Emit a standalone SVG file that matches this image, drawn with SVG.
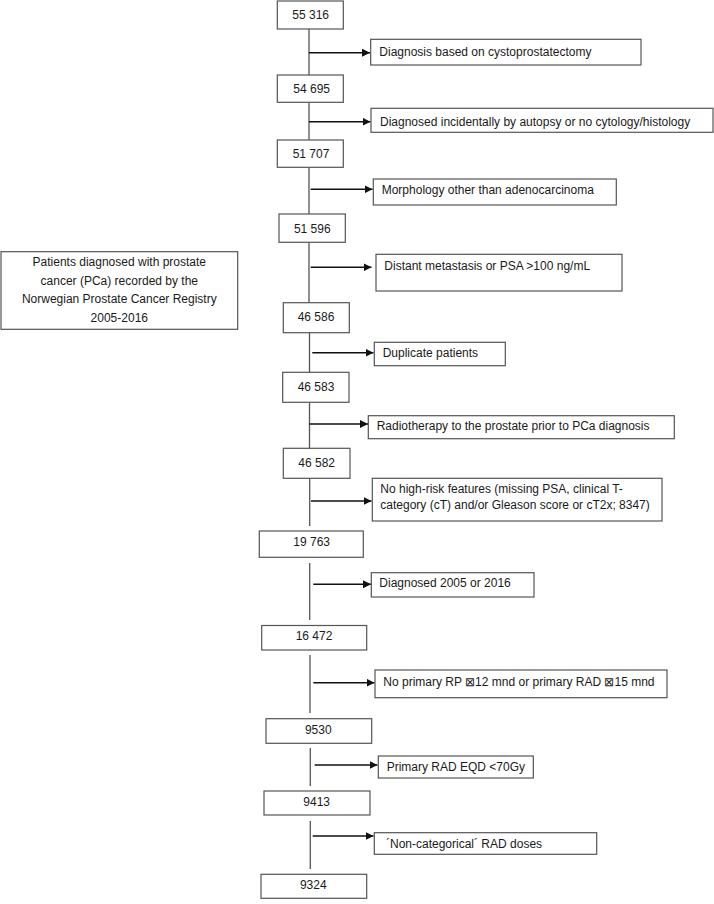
<svg xmlns="http://www.w3.org/2000/svg" width="714" height="904" viewBox="0 0 714 904">
<defs>
<style>
.b{fill:#fff;stroke:#555;stroke-width:1.2}
.t{font-family:"Liberation Sans",Arial,sans-serif;font-size:12px;fill:#1a1a1a}
.c{text-anchor:middle}
.v{stroke:#555;stroke-width:1.3;fill:none}
.a{stroke:#111;stroke-width:1.5;fill:none;marker-end:url(#ah)}
</style>
<marker id="ah" viewBox="0 0 10 10" refX="10" refY="5" markerWidth="8" markerHeight="8" markerUnits="userSpaceOnUse" orient="auto">
<path d="M0,0 L10,5 L0,10 z" fill="#111"/>
</marker>
</defs>
<rect width="714" height="904" fill="#fff"/>
<g id="connectors">
<line class="v" x1="309" y1="29" x2="309" y2="75"/>
<line class="v" x1="309" y1="102" x2="309" y2="140"/>
<line class="v" x1="309" y1="167" x2="309" y2="214"/>
<line class="v" x1="309" y1="242" x2="309" y2="303"/>
<line class="v" x1="309.5" y1="333" x2="309.5" y2="372"/>
<line class="v" x1="309.5" y1="402" x2="309.5" y2="448"/>
<line class="v" x1="309.7" y1="478" x2="309.7" y2="526"/>
<line class="v" x1="309.7" y1="563" x2="309.7" y2="620"/>
<line class="v" x1="310" y1="655" x2="310" y2="713"/>
<line class="v" x1="310.3" y1="748" x2="310.3" y2="786"/>
<line class="v" x1="310.3" y1="821" x2="310.3" y2="869"/>
<line class="a" x1="309" y1="52.7" x2="370" y2="52.7"/>
<line class="a" x1="309" y1="121.7" x2="370.5" y2="121.7"/>
<line class="a" x1="310.7" y1="189.3" x2="372.5" y2="189.3"/>
<line class="a" x1="310.7" y1="267.3" x2="371.5" y2="267.3"/>
<line class="a" x1="312.3" y1="352.7" x2="373.5" y2="352.7"/>
<line class="a" x1="309.3" y1="424" x2="368" y2="424"/>
<line class="a" x1="311" y1="501" x2="371.5" y2="501"/>
<line class="a" x1="313.3" y1="584.3" x2="371" y2="584.3"/>
<line class="a" x1="313.3" y1="682.7" x2="374.5" y2="682.7"/>
<line class="a" x1="314.7" y1="765" x2="377.5" y2="765"/>
<line class="a" x1="312.7" y1="836" x2="373.5" y2="836"/>
</g>
<g id="n0"><rect class="b" x="1" y="251.7" width="236.7" height="77.6"/>
<text class="t c" x="119.3" y="266"><tspan x="119.3">Patients diagnosed with prostate</tspan><tspan x="119.3" dy="18.6">cancer (PCa) recorded by the</tspan><tspan x="119.3" dy="18.6">Norwegian Prostate Cancer Registry</tspan><tspan x="119.3" dy="18.6">2005-2016</tspan></text></g>
<g id="n1"><rect class="b" x="277.3" y="1" width="66" height="28"/><text class="t c" x="310.7" y="19.3">55 316</text></g>
<g id="n2"><rect class="b" x="277.3" y="75" width="66" height="27.3"/><text class="t c" x="311.7" y="92.6">54 695</text></g>
<g id="n3"><rect class="b" x="277.3" y="140" width="66" height="27.3"/><text class="t c" x="311" y="157.5">51 707</text></g>
<g id="n4"><rect class="b" x="279" y="214" width="66.3" height="28.3"/><text class="t c" x="312.3" y="232.6">51 596</text></g>
<g id="n5"><rect class="b" x="283.3" y="302.7" width="66" height="30"/><text class="t c" x="316" y="321">46 586</text></g>
<g id="n6"><rect class="b" x="282.7" y="372.3" width="66.3" height="30"/><text class="t c" x="316" y="391">46 583</text></g>
<g id="n7"><rect class="b" x="283.3" y="448.3" width="66.7" height="30"/><text class="t c" x="316.7" y="467">46 582</text></g>
<g id="n8"><rect class="b" x="259.3" y="531" width="104" height="26.3"/><text class="t c" x="311.7" y="546">19 763</text></g>
<g id="n9"><rect class="b" x="261.7" y="625.5" width="105" height="24.5"/><text class="t c" x="314" y="640">16 472</text></g>
<g id="n10"><rect class="b" x="266" y="718.7" width="105.7" height="24.6"/><text class="t c" x="318.3" y="733.6">9530</text></g>
<g id="n11"><rect class="b" x="264" y="791" width="106" height="24"/><text class="t c" x="316.7" y="806">9413</text></g>
<g id="n12"><rect class="b" x="261" y="874.3" width="105.7" height="24"/><text class="t c" x="313.3" y="889.3">9324</text></g>
<g id="e1"><rect class="b" x="370.7" y="39.3" width="270.3" height="25.7"/><text class="t" x="379.3" y="56">Diagnosis based on cystoprostatectomy</text></g>
<g id="e2"><rect class="b" x="371" y="108.3" width="342" height="24"/><text class="t" x="380" y="126">Diagnosed incidentally by autopsy or no cytology/histology</text></g>
<g id="e3"><rect class="b" x="373.3" y="179" width="243" height="26"/><text class="t" x="381.7" y="193.6">Morphology other than adenocarcinoma</text></g>
<g id="e4"><rect class="b" x="376" y="254.3" width="246" height="36.7"/><text class="t" x="384.3" y="270">Distant metastasis or PSA &gt;100 ng/mL</text></g>
<g id="e5"><rect class="b" x="374.3" y="342.3" width="131" height="23.4"/><text class="t" x="382.7" y="357">Duplicate patients</text></g>
<g id="e6"><rect class="b" x="368.3" y="415.7" width="306" height="23"/><text class="t" x="376.7" y="430.3">Radiotherapy to the prostate prior to PCa diagnosis</text></g>
<g id="e7"><rect class="b" x="372.3" y="478.3" width="289.7" height="42.7"/><text class="t" x="380.3" y="493.3"><tspan x="380.3">No high-risk features (missing PSA, clinical T-</tspan><tspan x="380.3" dy="16">category (cT) and/or Gleason score or cT2x; 8347)</tspan></text></g>
<g id="e8"><rect class="b" x="371.3" y="572.7" width="162.7" height="24.3"/><text class="t" x="379.3" y="587">Diagnosed 2005 or 2016</text></g>
<g id="e9"><rect class="b" x="375" y="670" width="292" height="27.7"/><text class="t" x="383.3" y="686">No primary RP ⊠12 mnd or primary RAD ⊠15 mnd</text></g>
<g id="e10"><rect class="b" x="378.3" y="756" width="155" height="22"/><text class="t" x="386.7" y="771">Primary RAD EQD &lt;70Gy</text></g>
<g id="e11"><rect class="b" x="374.3" y="832.7" width="222.4" height="21.6"/><text class="t" x="386" y="847.6">´Non-categorical´ RAD doses</text></g>
</svg>
